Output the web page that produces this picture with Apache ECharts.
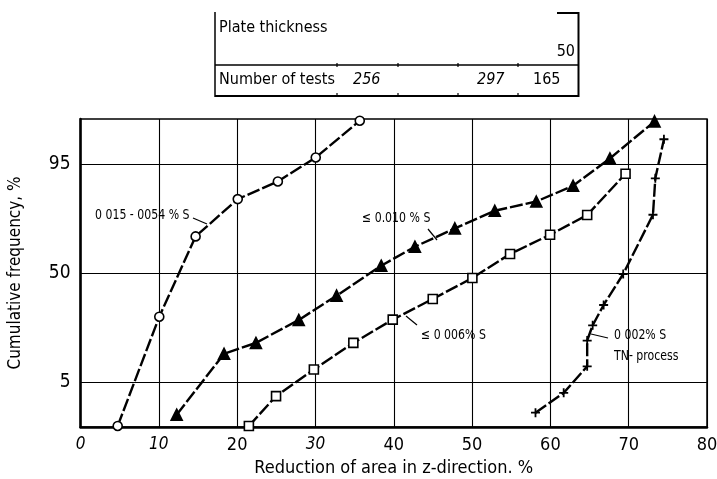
<!DOCTYPE html>
<html>
<head>
<meta charset="utf-8">
<script src="https://cdn.jsdelivr.net/npm/echarts@6/dist/echarts.min.js"></script>
<style>
html,body{margin:0;padding:0;background:#fff;}
#chart{width:717px;height:479px;}
</style>
</head>
<body>
<div id="chart"></div>
<script>
// ---- Data (x = reduction of area %, y = cumulative frequency in probit units, i.e. normal-probability scale) ----
const xTicks = [0, 10, 20, 30, 40, 50, 60, 70, 80];
const xItalicTicks = [0, 10, 30];
const yTickProbit = [-1.645, 0, 1.645];
const yTickLabels = ['5', '50', '95'];

const s1Name = '0 015 - 0054 % S';
const s1X = [4.75, 10.06, 14.7, 20.08, 25.2, 30.04, 35.66];
const s1Y = [-2.31, -0.66, 0.553, 1.116, 1.383, 1.745, 2.30];

const s2Name = '≤ 0.010 % S';
const s2X = [12.28, 18.33, 22.4, 27.87, 32.7, 38.4, 42.7, 47.8, 52.9, 58.2, 62.9, 67.6, 73.3];
const s2Y = [-2.14, -1.22, -1.056, -0.709, -0.342, 0.11, 0.397, 0.674, 0.94, 1.08, 1.317, 1.73, 2.29];

const s3Name = '≤ 0 006% S';
const s3X = [21.5, 24.97, 29.8, 34.84, 39.87, 44.98, 50.04, 54.85, 59.96, 64.7, 69.6];
const s3Y = [-2.31, -1.86, -1.458, -1.056, -0.704, -0.392, -0.075, 0.287, 0.578, 0.875, 1.50];

const s4Name = '0 002% S TN- process';
const s4X = [58.1, 61.7, 64.7, 64.7, 65.4, 66.8, 69.3, 73.1, 73.4, 74.5];
const s4Y = [-2.11, -1.81, -1.41, -1.02, -0.79, -0.483, -0.015, 0.88, 1.43, 2.02];

const tableRowLabels = ['Plate thickness', 'Number of tests'];
const tableThickness = ['50'];
const tableTests = ['256', '297', '165'];

// ---- Chart ----
const FONT = "'DejaVu Sans Condensed', 'Liberation Sans Narrow', 'Liberation Sans', sans-serif";
function pairs(xs, ys) { return xs.map((x, i) => [x, ys[i]]); }
const lineStyle = { color: '#000', width: 2.4, type: [13, 3] };
const plusPath = 'path://M4,0H6V4H10V6H6V10H4V6H0V4H4Z';

function mk(name, xs, ys, symbol, size, filled) {
  return {
    name: name, type: 'line', data: pairs(xs, ys),
    symbol: symbol, symbolSize: size, showAllSymbol: true,
    lineStyle: lineStyle, clip: false,
    itemStyle: { color: filled ? '#000' : '#fff', borderColor: '#000', borderWidth: 1.6 },
    emphasis: { disabled: true }, silent: true, z: 3
  };
}
function note(x, y, text) {
  return { type: 'text', x: x, y: y, scaleX: 0.87, originX: 0,
           style: { text: text, font: '14px ' + FONT, fill: '#000', verticalAlign: 'middle' } };
}

const chart = echarts.init(document.getElementById('chart'), null, { renderer: 'canvas' });

const option = {
  animation: false,
  backgroundColor: '#fff',
  grid: { left: 80.5, right: 10, top: 119, bottom: 52, outerBoundsMode: 'none', containLabel: false,
          show: true, borderColor: '#000', borderWidth: 1.5 },
  xAxis: {
    type: 'value', min: 0, max: 80, interval: 10,
    axisLine: { show: true, onZero: false, lineStyle: { color: '#000', width: 2.5 } },
    axisTick: { show: false },
    splitLine: { show: true, lineStyle: { color: '#000', width: 1.1 } },
    axisLabel: {
      margin: 9,
      formatter: v => xItalicTicks.indexOf(v) >= 0 ? '{i|' + v + '}' : '{n|' + v + '}',
      rich: {
        i: { fontFamily: FONT, fontSize: 17, fontStyle: 'italic', color: '#000' },
        n: { fontFamily: FONT, fontSize: 18, color: '#000' }
      }
    },
    name: 'Reduction of area in z-direction. %',
    nameLocation: 'middle', nameGap: 29,
    nameTextStyle: { fontFamily: FONT, fontSize: 18, color: '#000' }
  },
  yAxis: {
    type: 'value', min: -2.326, max: 2.326,
    axisLine: { show: true, onZero: false, lineStyle: { color: '#000', width: 2.5 } },
    axisTick: { show: false },
    splitLine: { show: false },
    axisLabel: {
      customValues: yTickProbit,
      margin: 10,
      formatter: v => { const i = yTickProbit.findIndex(t => Math.abs(t - v) < 1e-6); return i >= 0 ? yTickLabels[i] : ''; },
      fontFamily: FONT, fontSize: 19, color: '#000'
    },
    name: 'Cumulative frequency, %',
    nameLocation: 'middle', nameGap: 56, nameRotate: 90,
    nameTextStyle: { fontFamily: FONT, fontSize: 17, color: '#000' }
  },
  series: [
    Object.assign(mk(s1Name, s1X, s1Y, 'circle', 9, false), {
      markLine: {
        silent: true, symbol: 'none', label: { show: false },
        lineStyle: { color: '#000', width: 1.1, type: 'solid' },
        data: yTickProbit.map(v => ({ yAxis: v }))
      }
    }),
    mk(s2Name, s2X, s2Y, 'triangle', 11, true),
    mk(s3Name, s3X, s3Y, 'rect', 9, false),
    Object.assign(mk(s4Name, s4X, s4Y, plusPath, 9, true), { itemStyle: { color: '#000', borderWidth: 0 } })
  ],
  graphic: [
    // Table
    { type: 'polyline', shape: { points: [[557, 13], [578.5, 13], [578.5, 97]] }, style: { stroke: '#000', lineWidth: 2, fill: null } },
    { type: 'line', shape: { x1: 215, y1: 12, x2: 215, y2: 97 }, style: { stroke: '#000', lineWidth: 1.5 } },
    { type: 'line', shape: { x1: 215, y1: 65, x2: 578, y2: 65 }, style: { stroke: '#000', lineWidth: 1.5 } },
    { type: 'line', shape: { x1: 215, y1: 96, x2: 578, y2: 96 }, style: { stroke: '#000', lineWidth: 1.8 } },
    ...[337, 398, 458, 518].flatMap(x => [
      { type: 'line', shape: { x1: x, y1: 63, x2: x, y2: 67 }, style: { stroke: '#000', lineWidth: 1.2 } },
      { type: 'line', shape: { x1: x, y1: 93, x2: x, y2: 97 }, style: { stroke: '#000', lineWidth: 1.2 } }
    ]),
    { type: 'text', x: 219, y: 28, style: { text: tableRowLabels[0], font: '16px ' + FONT, fill: '#000', verticalAlign: 'middle' } },
    { type: 'text', x: 575, y: 52, style: { text: tableThickness[0], font: '16px ' + FONT, fill: '#000', align: 'right', verticalAlign: 'middle' } },
    { type: 'text', x: 219, y: 80, style: { text: tableRowLabels[1], font: '16px ' + FONT, fill: '#000', verticalAlign: 'middle' } },
    { type: 'text', x: 353, y: 80, style: { text: tableTests[0], font: 'italic 16px ' + FONT, fill: '#000', verticalAlign: 'middle' } },
    { type: 'text', x: 477, y: 80, style: { text: tableTests[1], font: 'italic 16px ' + FONT, fill: '#000', verticalAlign: 'middle' } },
    { type: 'text', x: 533, y: 80, style: { text: tableTests[2], font: '16px ' + FONT, fill: '#000', verticalAlign: 'middle' } },
    // Annotations
    note(95, 215, '0 015 - 0054 % S'),
    { type: 'line', shape: { x1: 193, y1: 218, x2: 207, y2: 224 }, style: { stroke: '#000', lineWidth: 1.2 } },
    note(362, 218, '≤ 0.010 % S'),
    { type: 'line', shape: { x1: 428, y1: 229, x2: 437, y2: 240 }, style: { stroke: '#000', lineWidth: 1.2 } },
    note(421, 335, '≤ 0 006% S'),
    { type: 'line', shape: { x1: 406, y1: 316, x2: 417, y2: 325 }, style: { stroke: '#000', lineWidth: 1.2 } },
    note(614, 335, '0 002% S'),
    note(614, 356, 'TN- process'),
    { type: 'line', shape: { x1: 591, y1: 334, x2: 608, y2: 338 }, style: { stroke: '#000', lineWidth: 1.2 } }
  ]
};
chart.setOption(option);
</script>
</body>
</html>
